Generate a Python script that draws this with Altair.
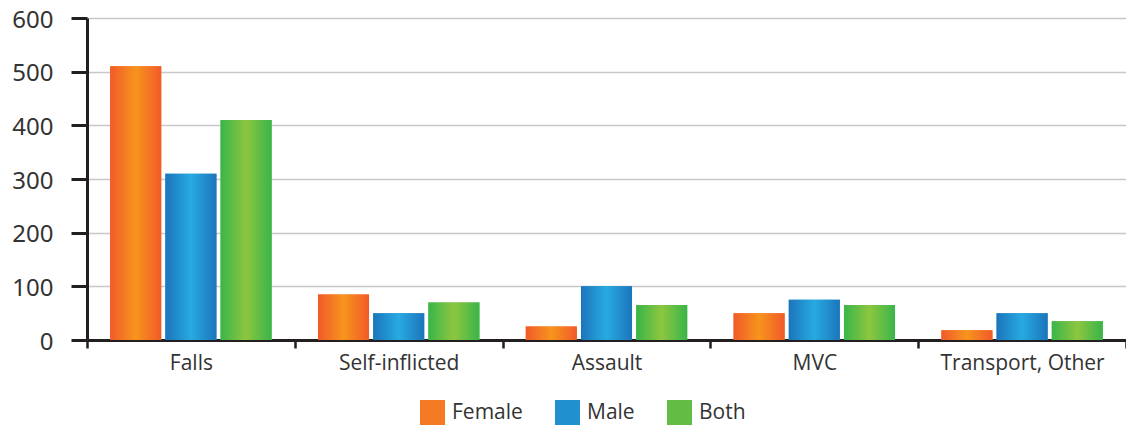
import altair as alt
import pandas as pd

categories = ["Falls", "Self-inflicted", "Assault", "MVC", "Transport, Other"]
series = ["Female", "Male", "Both"]
female = [510, 85, 25, 50, 18]
male = [310, 50, 100, 75, 50]
both = [410, 70, 65, 65, 35]
y_ticks = [0, 100, 200, 300, 400, 500, 600]

edge_colors = ["#F15A29", "#1C75BC", "#39B54A"]
center_colors = ["#F7941D", "#27AAE1", "#8DC63F"]
legend_colors = ["#F47A23", "#2190CE", "#63BD45"]

rows = []
for s, vals in zip(series, [female, male, both]):
    for c, v in zip(categories, vals):
        rows.append({"category": c, "sex": s, "value": v})
df = pd.DataFrame(rows)


def grad(edge, center):
    return alt.Gradient(
        gradient="linear",
        x1=0, x2=1, y1=0, y2=0,
        stops=[
            alt.GradientStop(color=edge, offset=0),
            alt.GradientStop(color=center, offset=0.5),
            alt.GradientStop(color=edge, offset=1),
        ],
    )


x_enc = alt.X(
    "category:N",
    sort=categories,
    title=None,
    scale=alt.Scale(paddingInner=0, paddingOuter=0),
    axis=alt.Axis(
        labelAngle=0,
        tickBand="extent",
        tickSize=8,
        tickWidth=2.5,
        tickColor="#231f20",
        domainColor="#231f20",
        domainWidth=3,
        labelFont="Open Sans",
        labelFontSize=21,
        labelColor="#333333",
        labelPadding=4,
        grid=False,
    ),
)
xoff_enc = alt.XOffset(
    "sex:N",
    sort=series,
    scale=alt.Scale(domain=series, paddingInner=0.075, paddingOuter=0.42),
)
y_enc = alt.Y(
    "value:Q",
    title=None,
    scale=alt.Scale(domain=[0, 600], nice=False),
    axis=alt.Axis(
        values=y_ticks,
        grid=True,
        gridColor="#c8c8c8",
        gridWidth=1.5,
        domainColor="#231f20",
        domainWidth=3,
        tickColor="#231f20",
        tickWidth=3,
        tickSize=16,
        labelPadding=18,
        labelOffset=2,
        labelFont="Noto Sans",
        labelFontSize=24,
        labelColor="#333333",
    ),
)

base = alt.Chart(df).mark_bar().encode(
    x=x_enc,
    xOffset=xoff_enc,
    y=y_enc,
    color=alt.Color(
        "sex:N",
        sort=series,
        scale=alt.Scale(domain=series, range=legend_colors),
        legend=alt.Legend(
            title=None,
            orient="none",
            legendX=333,
            legendY=382,
            direction="horizontal",
            symbolType="square",
            symbolSize=625,
            symbolStrokeWidth=0,
            symbolOpacity=1,
            labelFont="Open Sans",
            labelFontSize=21,
            labelColor="#333333",
            labelOffset=7,
            columnPadding=32,
        ),
    ),
)

layers = [base]
for s, e, c in zip(series, edge_colors, center_colors):
    layers.append(
        alt.Chart(df)
        .transform_filter(alt.datum.sex == s)
        .mark_bar(color=grad(e, c))
        .encode(x=x_enc, xOffset=xoff_enc, y=y_enc)
    )

chart = (
    alt.layer(*layers)
    .properties(
        width=1039,
        height=322,
        padding={"left": 87, "top": 18, "right": 0, "bottom": 87},
        autosize=alt.AutoSizeParams(type="none"),
    )
    .configure_view(stroke=None)
    .configure(background="white")
)

chart.save("out.html", embed_options={"renderer": "svg", "actions": False})
